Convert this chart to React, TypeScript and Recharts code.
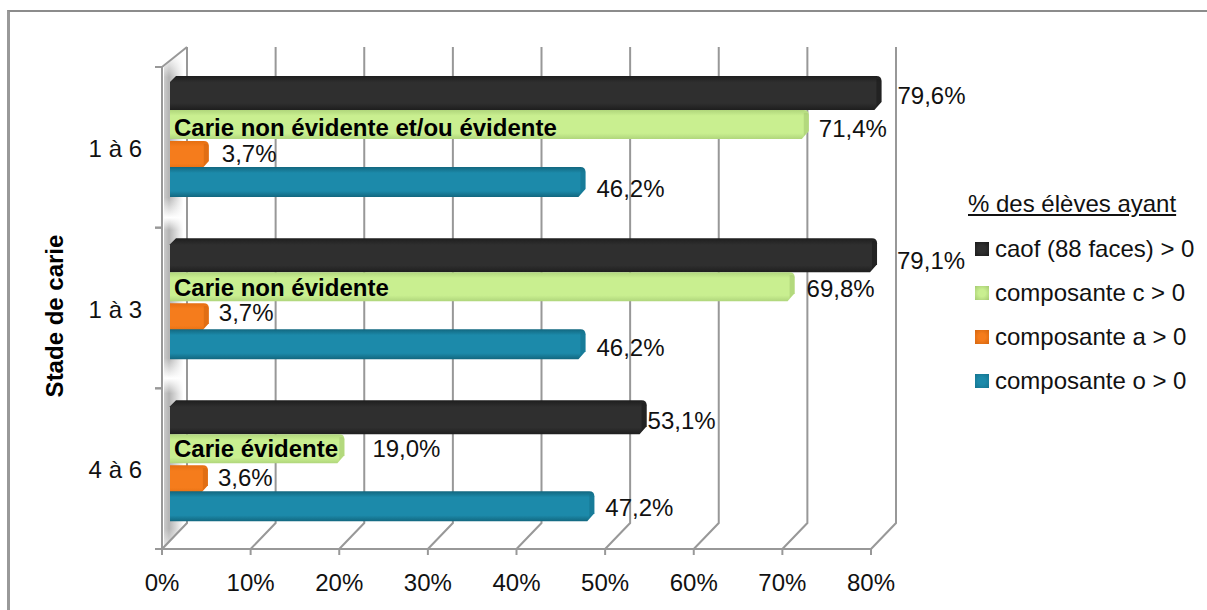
import { Bar, BarChart, CartesianGrid, LabelList, Legend, XAxis, YAxis } from "recharts";

const stages = ["1 à 6", "1 à 3", "4 à 6"];
const caof = [79.6, 79.1, 53.1];
const compC = [71.4, 69.8, 19.0];
const compA = [3.7, 3.7, 3.6];
const compO = [46.2, 46.2, 47.2];
const stageNotes = ["Carie non évidente et/ou évidente", "Carie non évidente", "Carie évidente"];
const xTicks = [0, 10, 20, 30, 40, 50, 60, 70, 80];
const legendTitle = "% des élèves ayant";

const chartData = stages.map((stage, i) => ({
  stage,
  caof: caof[i],
  c: compC[i],
  a: compA[i],
  o: compO[i],
  note: stageNotes[i],
}));

const FONT = '"Liberation Sans", Arial, sans-serif';
const INK = "#111111";
const AXIS_GREY = "#989898";
// the bars sit halfway into the 3D box, up and right of the front axes
const DEPTH_X = 8;
const DEPTH_Y = -10;
// the bar groups are spaced a touch wider than the axis ticks
const GROUP_SHIFT = [0, 1.5, 3];

// hand placement of the value labels, one [dx, dy] per stage
const LABEL_NUDGE: Record<string, number[][]> = {
  caof: [[30, 3], [34, 8], [15, 7]],
  c: [[24, 6], [26, 6], [42, 5]],
  a: [[27, 1], [24, 0], [24, 4]],
  o: [[25, 6], [25, 5], [25, 4]],
};

const SERIES = [
  { key: "caof", name: "caof (88 faces) > 0", edge: "#1e1e1e", mid: "#2f2f2f", side: "#1a1a1a", top: -1, bottom: 3, chamfer: 6 },
  { key: "c", name: "composante c > 0", edge: "#b0d67c", mid: "#c9ef90", side: "#a5ca72", top: 3, bottom: 2, chamfer: 0 },
  { key: "a", name: "composante a > 0", edge: "#e56f12", mid: "#f57c1c", side: "#d4660f", top: 4, bottom: 2, chamfer: 0 },
  { key: "o", name: "composante o > 0", edge: "#12677f", mid: "#1c8aaa", side: "#15738e", top: 0, bottom: 0, chamfer: 0 },
];

function bevelBar(s: (typeof SERIES)[number]) {
  return function BevelBar(props: any) {
    const x = props.x + DEPTH_X;
    const y = props.y + DEPTH_Y + s.top + GROUP_SHIFT[props.index];
    const w = props.width + 6;
    const h = props.height - s.top + s.bottom;
    const r = 5;
    const c = s.chamfer;
    return (
      <g>
        <path
          d={`M${x} ${y + c} L${x + c} ${y} H${x + w - r} Q${x + w} ${y} ${x + w} ${y + r} V${y + h - 8} L${x + w - 7} ${y + h} H${x} Z`}
          fill={`url(#grad-${s.key})`}
        />
        <path
          d={`M${x + w - 5} ${y + 3} Q${x + w} ${y + 2} ${x + w} ${y + r} V${y + h - 8} L${x + w - 5} ${y + h - 3} Z`}
          fill={s.side}
          opacity={0.6}
        />
      </g>
    );
  };
}

function valueLabel(key: string) {
  return function ValueLabel(props: any) {
    const { x, y, width, height, value, index } = props;
    const [dx, dy] = LABEL_NUDGE[key][index];
    return (
      <text x={x + width + dx} y={y + height / 2 + dy + DEPTH_Y} dominantBaseline="central" fontFamily={FONT} fontSize={24} fill={INK}>
        {value.toFixed(1).replace(".", ",")}%
      </text>
    );
  };
}

function NoteLabel(props: any) {
  const { x, y, height, value } = props;
  return (
    <text x={x + 12} y={y + height / 2 + 5 + DEPTH_Y} dominantBaseline="central" fontFamily={FONT} fontSize={24} fontWeight="bold" fill="#000">
      {value}
    </text>
  );
}

function StageTick(props: any) {
  const { x, y, payload } = props;
  const half = 80.33;
  const axisX = x + 8;
  return (
    <g>
      <text x={axisX - 20} y={y + 1} textAnchor="end" dominantBaseline="central" fontFamily={FONT} fontSize={24} fill={INK}>
        {payload.value}
      </text>
      <line x1={axisX - 7} x2={axisX} y1={y - half} y2={y - half} stroke={AXIS_GREY} strokeWidth={2} />
      <line x1={axisX - 7} x2={axisX} y1={y + half} y2={y + half} stroke={AXIS_GREY} strokeWidth={2} />
    </g>
  );
}

function WallLine(props: any) {
  const { x1, y1, y2, index } = props;
  const back = x1 + 25;
  const top = y1 - 20;
  const foot = y2 - 26;
  const wall = `${x1 + 2},${y1} ${back},${top} ${back},${foot} ${x1 + 2},${y2}`;
  return (
    <g>
      {index === 0 && <polygon points={wall} fill="url(#wall-shadow)" />}
      {index === 0 && <polygon points={wall} fill="url(#wall-fade)" />}
      {index === 0 && <line x1={x1} y1={y1} x2={back} y2={top} stroke={AXIS_GREY} strokeWidth={2} />}
      <path d={`M${back} ${top} V${foot} L${x1} ${y2}`} fill="none" stroke={AXIS_GREY} strokeWidth={2} />
    </g>
  );
}

function LegendBox() {
  return (
    <div style={{ position: "relative", width: 336, height: 610, fontFamily: FONT, fontSize: 24, color: INK }}>
      <div style={{ position: "absolute", left: 97, top: 190, whiteSpace: "nowrap", textDecoration: "underline" }}>{legendTitle}</div>
      {SERIES.map((s, i) => (
        <div key={s.key} style={{ position: "absolute", left: 104, top: 235 + i * 44, whiteSpace: "nowrap", display: "flex", alignItems: "center" }}>
          <span
            style={{
              display: "inline-block",
              width: 14,
              height: 14,
              marginRight: 6,
              background: `radial-gradient(circle, ${s.mid} 35%, ${s.side} 100%)`,
            }}
          />
          {s.name}
        </div>
      ))}
    </div>
  );
}

export default function App() {
  return (
    <div style={{ position: "absolute", left: 0, top: 0, width: 1207, height: 610, background: "#fff", overflow: "hidden" }}>
      <div style={{ position: "absolute", left: 7, top: 10, right: 0, bottom: 0, borderLeft: "3px solid #999", borderTop: "2px solid #8c8c8c" }} />
      <BarChart
        width={1207}
        height={610}
        data={chartData}
        layout="vertical"
        margin={{ top: 67, right: 0, bottom: 0, left: 0 }}
        barCategoryGap={20}
        barGap={0}
        style={{ position: "absolute", left: 0, top: 0 }}
      >
        <defs>
          {SERIES.map((s) => (
            <linearGradient key={s.key} id={`grad-${s.key}`} x1="0" y1="0" x2="0" y2="1">
              <stop offset="0" stopColor={s.edge} />
              <stop offset="0.2" stopColor={s.mid} />
              <stop offset="0.8" stopColor={s.mid} />
              <stop offset="1" stopColor={s.edge} />
            </linearGradient>
          ))}
          <linearGradient id="wall-shadow" x1="0" y1="0" x2="0" y2="1">
            <stop offset="0.015" stopColor="#ffffff" />
            <stop offset="0.06" stopColor="#b4b4b4" />
            <stop offset="0.3" stopColor="#b4b4b4" />
            <stop offset="0.34" stopColor="#ffffff" />
            <stop offset="0.365" stopColor="#b4b4b4" />
            <stop offset="0.62" stopColor="#b4b4b4" />
            <stop offset="0.66" stopColor="#ffffff" />
            <stop offset="0.69" stopColor="#b4b4b4" />
            <stop offset="0.96" stopColor="#b4b4b4" />
            <stop offset="1" stopColor="#e8e8e8" />
          </linearGradient>
          <linearGradient id="wall-fade" x1="0" y1="0" x2="1" y2="0">
            <stop offset="0" stopColor="#ffffff" stopOpacity={0.3} />
            <stop offset="0.22" stopColor="#ffffff" stopOpacity={0} />
            <stop offset="0.85" stopColor="#ffffff" stopOpacity={1} />
          </linearGradient>
        </defs>
        <CartesianGrid horizontal={false} vertical={WallLine as any} />
        <XAxis
          type="number"
          domain={[0, 80]}
          ticks={xTicks}
          interval={0}
          height={61}
          tickFormatter={(v: number) => `${v}%`}
          tick={{ fontFamily: FONT, fontSize: 24, fill: INK }}
          tickLine={{ stroke: AXIS_GREY, strokeWidth: 2 }}
          axisLine={{ stroke: AXIS_GREY, strokeWidth: 2 }}
          tickSize={6}
          tickMargin={19}
        />
        <YAxis
          type="category"
          dataKey="stage"
          width={162}
          tick={StageTick as any}
          tickLine={false}
          axisLine={{ stroke: AXIS_GREY, strokeWidth: 2 }}
          label={{
            value: "Stade de carie",
            angle: -90,
            position: "insideLeft",
            textAnchor: "middle",
            dx: 49,
            dy: 8,
            style: { fontFamily: FONT, fontSize: 24, fontWeight: "bold", fill: "#000", textAnchor: "middle" },
          }}
        />
        <Legend layout="vertical" align="right" verticalAlign="top" width={336} height={610} content={LegendBox as any} wrapperStyle={{ top: 0, right: 0 }} />
        {SERIES.map((s) => (
          <Bar key={s.key} dataKey={s.key} name={s.name} shape={bevelBar(s) as any} isAnimationActive={false}>
            <LabelList dataKey={s.key} content={valueLabel(s.key) as any} />
            {s.key === "c" && <LabelList dataKey="note" content={NoteLabel as any} />}
          </Bar>
        ))}
      </BarChart>
    </div>
  );
}
